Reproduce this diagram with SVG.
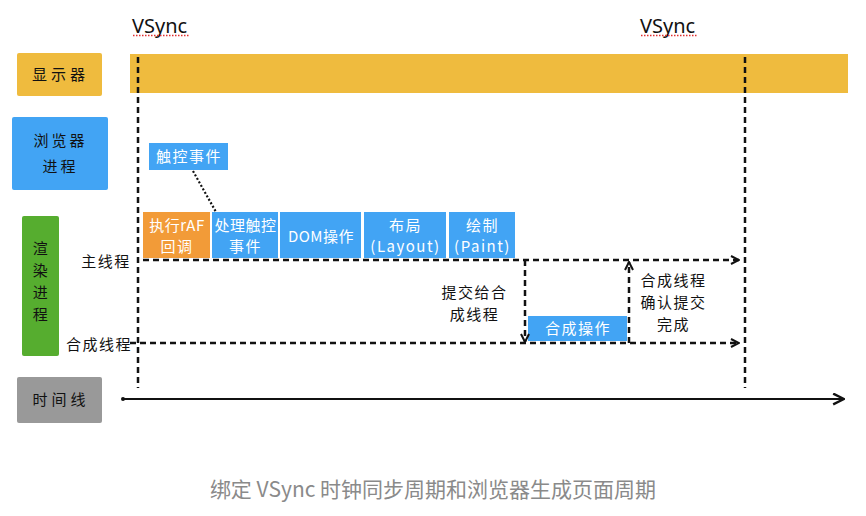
<svg xmlns="http://www.w3.org/2000/svg" width="866" height="516" viewBox="0 0 866 516">
<defs>
<style>
.t{font-family:"Noto Sans CJK SC","Noto Sans",sans-serif;font-size:15px;fill:#111;text-anchor:middle;letter-spacing:1.5px}
.w{fill:#fff}
.vs{font-family:"Noto Sans","Open Sans",sans-serif;font-size:20px;fill:#111}
.dash{stroke:#111;stroke-width:2.5;stroke-dasharray:6,4;fill:none}
.blue{fill:#42a4f4}
.sq{stroke:#e03030;stroke-width:1.5;stroke-dasharray:1.5,1.5;fill:none}
</style>
<marker id="ah" viewBox="0 0 10 10" refX="9" refY="5" markerWidth="10" markerHeight="10" markerUnits="userSpaceOnUse" orient="auto"><path d="M1,1 L9,5 L1,9" fill="none" stroke="#111" stroke-width="2"/></marker>
<marker id="ah2" viewBox="0 0 12 12" refX="11" refY="6" markerWidth="13" markerHeight="13" markerUnits="userSpaceOnUse" orient="auto"><path d="M1,1 L11,6 L1,11" fill="none" stroke="#111" stroke-width="2.2"/></marker>
</defs>
<rect width="866" height="516" fill="#fff"/>
<g id="vsync-labels">
<text class="vs" x="132" y="33">VSync</text>
<text class="vs" x="640" y="33">VSync</text>
<line class="sq" x1="133" y1="35.5" x2="189" y2="35.5"/>
<line class="sq" x1="641" y1="35.5" x2="697" y2="35.5"/>
</g>
<g id="display">
<rect x="17" y="53" width="85" height="43" rx="2" fill="#efbb3e"/>
<text class="t" x="60.5" y="80" style="letter-spacing:4px">显示器</text>
</g>
<g id="display-bar"><rect x="130" y="54" width="718" height="39" fill="#efbb3e"/></g>
<g id="browser">
<rect x="12" y="117" width="96" height="73" rx="2" class="blue"/>
<text class="t" x="60.5" y="146" style="letter-spacing:3px">浏览器</text>
<text class="t" x="60.5" y="172" style="letter-spacing:3px">进程</text>
</g>
<g id="renderer">
<rect x="22" y="216" width="37" height="140" rx="2" fill="#56ad2f"/>
<text class="t" x="41" y="254">渲</text>
<text class="t" x="41" y="276">染</text>
<text class="t" x="41" y="298">进</text>
<text class="t" x="41" y="320">程</text>
</g>
<g id="timeline-label">
<rect x="17" y="377" width="85" height="46" rx="2" fill="#999"/>
<text class="t" x="61" y="405" style="letter-spacing:4px">时间线</text>
</g>
<g id="touch-event">
<rect x="149" y="143" width="79" height="27" class="blue"/>
<text class="t w" x="189" y="162">触控事件</text>
</g>
<g id="raf">
<rect x="143" y="212" width="67" height="46" fill="#f29b38"/>
<text class="t w" x="177" y="231" style="letter-spacing:0.5px">执行rAF</text>
<text class="t w" x="177" y="252">回调</text>
</g>
<g id="handle-touch">
<rect x="212" y="212" width="66" height="46" class="blue"/>
<text class="t w" x="245.5" y="231" style="letter-spacing:0.5px">处理触控</text>
<text class="t w" x="245.5" y="252">事件</text>
</g>
<g id="dom">
<rect x="280" y="212" width="81" height="46" class="blue"/>
<text class="t w" x="321" y="242" style="letter-spacing:0.5px">DOM操作</text>
</g>
<g id="layout">
<rect x="364" y="212" width="82" height="46" class="blue"/>
<text class="t w" x="405.5" y="231">布局</text>
<text class="t w" x="405.5" y="252">(Layout)</text>
</g>
<g id="paint">
<rect x="449" y="212" width="66" height="46" class="blue"/>
<text class="t w" x="482.5" y="231">绘制</text>
<text class="t w" x="482.5" y="252">(Paint)</text>
</g>
<g id="composite-op">
<rect x="528" y="316" width="99" height="25" class="blue"/>
<text class="t w" x="578" y="334">合成操作</text>
</g>
<g id="thread-labels">
<text class="t" x="106" y="267">主线程</text>
<text class="t" x="99" y="350">合成线程</text>
<text class="t" x="474.5" y="298">提交给合</text>
<text class="t" x="474.5" y="320">成线程</text>
<text class="t" x="673.5" y="286">合成线程</text>
<text class="t" x="673.5" y="308">确认提交</text>
<text class="t" x="673.5" y="330">完成</text>
</g>
<g id="connectors">
<line class="dash" x1="138" y1="57" x2="138" y2="388"/>
<line class="dash" x1="745" y1="57" x2="745" y2="388"/>
<line x1="193" y1="171" x2="216" y2="212" stroke="#111" stroke-width="2.2" stroke-dasharray="2,2"/>
<line class="dash" x1="143" y1="260" x2="739" y2="260" marker-end="url(#ah)"/>
<line class="dash" x1="130" y1="343" x2="739" y2="343" marker-end="url(#ah)"/>
<line class="dash" x1="525" y1="260" x2="525" y2="342" marker-end="url(#ah)"/>
<line class="dash" x1="629" y1="343" x2="629" y2="262" marker-end="url(#ah)"/>
<line x1="122" y1="399" x2="844" y2="399" stroke="#111" stroke-width="2.2" marker-end="url(#ah2)"/>
<circle cx="123" cy="399" r="2" fill="#111"/>
</g>
<g id="caption">
<text x="433" y="497" font-family="'Noto Sans CJK SC','Noto Sans',sans-serif" font-size="21" fill="#8a8a8a" text-anchor="middle">绑定 VSync 时钟同步周期和浏览器生成页面周期</text>
</g>
</svg>
